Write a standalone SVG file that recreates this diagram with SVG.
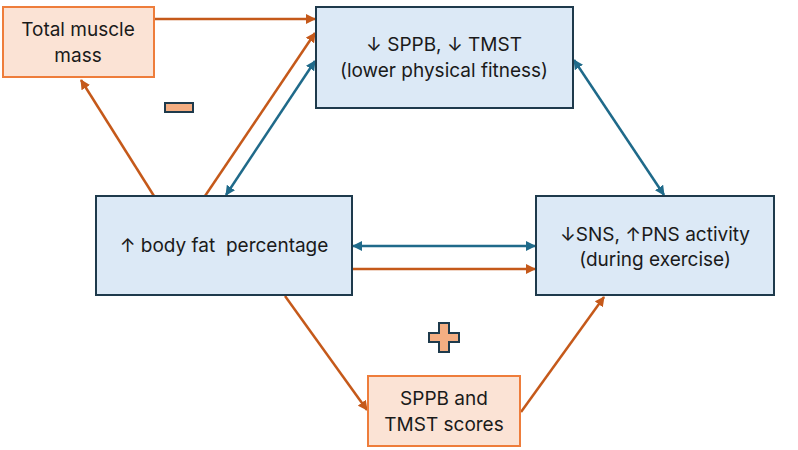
<svg xmlns="http://www.w3.org/2000/svg" width="798" height="450" viewBox="0 0 798 450">
<style>
.bl{fill:#DCE9F6;stroke:#1E3A4C;stroke-width:2}
.or{fill:#FBE3D5;stroke:#EE7D3B;stroke-width:2}
.t{font-family:Inter,"Open Sans","Liberation Sans",sans-serif;font-size:19px;fill:#1a1a1a;text-anchor:middle;white-space:pre}
.o{stroke:#C5591A;stroke-width:2.5;fill:none;marker-end:url(#ao)}
.b{stroke:#1F6A8A;stroke-width:2.5;fill:none;marker-end:url(#ab);marker-start:url(#abs)}
.sign{fill:#F4AE82;stroke:#1E3A4C;stroke-width:2}
</style>
<defs>
<marker id="ao" viewBox="0 0 10 10" refX="9" refY="5" markerWidth="4" markerHeight="4" orient="auto" markerUnits="strokeWidth"><path d="M0,0L10,5L0,10z" fill="#C5591A"/></marker>
<marker id="ab" viewBox="0 0 10 10" refX="9" refY="5" markerWidth="4" markerHeight="4" orient="auto" markerUnits="strokeWidth"><path d="M0,0L10,5L0,10z" fill="#1F6A8A"/></marker>
<marker id="abs" viewBox="0 0 10 10" refX="1" refY="5" markerWidth="4" markerHeight="4" orient="auto" markerUnits="strokeWidth"><path d="M10,0L0,5L10,10z" fill="#1F6A8A"/></marker>
</defs>
<rect width="798" height="450" fill="#fff"/>
<g id="connectors">
<line class="o" x1="155" y1="19" x2="315" y2="19"/>
<line class="o" x1="154" y1="196" x2="81" y2="80"/>
<line class="o" x1="205" y1="196" x2="315" y2="33"/>
<line class="b" x1="226" y1="195" x2="315" y2="61"/>
<line class="b" x1="574" y1="60" x2="664" y2="195"/>
<line class="b" x1="353" y1="246" x2="535" y2="246"/>
<line class="o" x1="353" y1="269" x2="535" y2="269"/>
<line class="o" x1="285" y1="296" x2="367" y2="410"/>
<line class="o" x1="521" y1="412" x2="604" y2="297"/>
</g>
<g id="total-muscle-mass">
<rect class="or" x="3" y="7" width="151" height="70"/>
<text class="t" x="78" y="36">Total muscle</text>
<text class="t" x="78" y="62">mass</text>
</g>
<g id="physical-fitness">
<rect class="bl" x="316" y="7" width="257" height="101"/>
<text class="t" x="444" y="51">↓ SPPB, ↓ TMST</text>
<text class="t" x="444" y="77">(lower physical fitness)</text>
</g>
<g id="body-fat">
<rect class="bl" x="96" y="196" width="256" height="99"/>
<text class="t" x="224" y="252" xml:space="preserve">↑ body fat  percentage</text>
</g>
<g id="sns-pns">
<rect class="bl" x="536" y="196" width="238" height="99"/>
<text class="t" x="655" y="241">↓SNS, ↑PNS activity</text>
<text class="t" x="655" y="266">(during exercise)</text>
</g>
<g id="sppb-scores">
<rect class="or" x="368" y="376" width="152" height="70"/>
<text class="t" x="444" y="405">SPPB and</text>
<text class="t" x="444" y="431">TMST scores</text>
</g>
<g id="minus">
<rect class="sign" x="165" y="103" width="28" height="9"/>
</g>
<g id="plus">
<path class="sign" d="M439,323h10v10h10v9h-10v10h-10v-10h-10v-9h10z"/>
</g>
</svg>
